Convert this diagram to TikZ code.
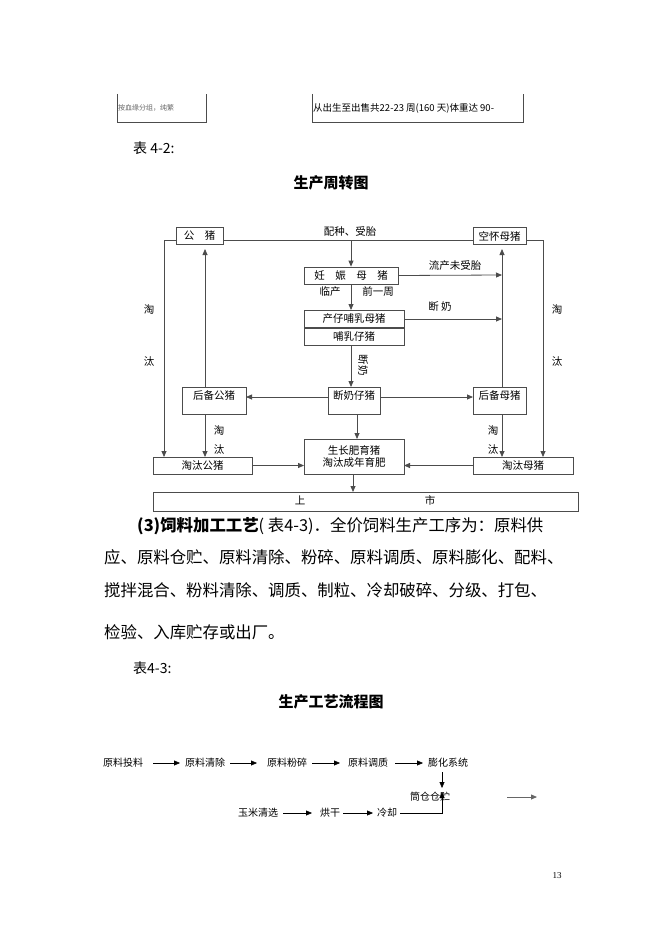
\documentclass[tikz,border=0pt]{standalone}
\usepackage{fontspec}
\setmainfont{Liberation Serif}
\newfontfamily\cjk{Noto Sans CJK SC}
\usetikzlibrary{arrows.meta}
\begin{document}
\begin{tikzpicture}[x=1pt,y=-1pt,
  box/.style={draw,thick,draw=black!70,minimum height=17pt,inner sep=0pt,font=\cjk\fontsize{10.5}{12}\selectfont},
  lab/.style={font=\cjk\fontsize{10.5}{12}\selectfont,inner sep=0pt},
  arr/.style={-{Triangle[length=6pt,width=5pt]},thick,draw=black!70},
  ln/.style={thick,draw=black!70},
  fl/.style={font=\cjk\fontsize{10}{12}\selectfont,inner sep=0pt},
  para/.style={font=\cjk\fontsize{16.4}{18}\selectfont,anchor=west,inner sep=0pt}]
\useasboundingbox[fill=white] (0,0) rectangle (662,936);
% top partial boxes
\draw[ln] (117,94) -- (117,122) -- (206,122) -- (206,94);
\draw[ln] (312,94) -- (312,122) -- (523,122) -- (523,94);
\node[anchor=west,font=\cjk\fontsize{7}{8}\selectfont,text=black!60,inner sep=0pt] (t1) at (118,108) {按血缘分组，纯繁};
\node[anchor=west,font=\cjk\fontsize{9.5}{10}\selectfont,inner sep=0pt] (t2) at (313,108) {从出生至出售共22-23 周(160 天)体重达 90-};
\node[para,font=\cjk\fontsize{14}{15}\selectfont] (b42) at (133,148) {表 4-2:};
\node[font=\cjk\bfseries\fontsize{15}{16}\selectfont] (ti1) at (331,183) {生产周转图};
% diagram nodes
\node[box,minimum width=47pt] (gz) at (199.5,236) {公\quad 猪};
\node[box,minimum width=53pt] (kh) at (499.5,236) {空怀母猪};
\node[box,minimum width=94pt] (rs) at (351,275.5) {妊\quad 娠\quad 母\quad 猪};
\node[box,minimum width=100pt] (cz) at (354,319) {产仔哺乳母猪};
\node[box,minimum width=100pt] (br) at (354,336.5) {哺乳仔猪};
\node[box,minimum width=52pt,minimum height=27pt] (dn) at (354,400.5) {};
\node[lab] at (354,396) {断奶仔猪};
\node[box,minimum width=64pt,minimum height=27pt] (hg) at (214,400.5) {};
\node[lab] at (214,396) {后备公猪};
\node[box,minimum width=53pt,minimum height=27pt] (hm) at (499.5,400.5) {};
\node[lab] at (499.5,396) {后备母猪};
\node[box,minimum width=99pt] (tg) at (202.5,465.5) {淘汰公猪};
\node[box,minimum width=100pt] (tm) at (523,465.5) {淘汰母猪};
\node[box,minimum width=100pt,minimum height=35pt,align=center] (sz) at (354,456.5) {生长肥育猪\\淘汰成年育肥};
\node[box,minimum width=425pt,minimum height=19pt] (ss) at (365.5,501.5) {};
\node[lab] at (300,500) {上};
\node[lab] at (430,500) {市};
% connectors
\coordinate (L1) at (164,240); \coordinate (L2) at (164,457);
\coordinate (R1) at (543,240); \coordinate (R2) at (543,457);
\coordinate (T1) at (351,240);
\draw[ln] (gz.east |- T1) -- (kh.west |- T1);
\node[lab] at (350,231) {配种、受胎};
\draw[arr] (T1) -- (rs.north);
\draw[ln] (gz.west |- L1) -- (L1);
\draw[arr] (L1) -- (L2);
\draw[ln] (kh.east |- R1) -- (R1);
\draw[arr] (R1) -- (R2);
\draw[arr] (rs.south) -- (351,310);
\node[lab] at (330,292) {临产};
\node[lab] at (378,292) {前一周};
\draw[arr] (rs.east) -- (502,275);
\node[lab] at (455,266) {流产未受胎};
\draw[arr] (cz.east) -- (502,319);
\node[lab] at (440,307) {断\ 奶};
\draw[arr] (502,387) -- (502,249);
\draw[arr] (351,345) -- (351,387);
\node[lab,rotate=-90] at (363,365) {断奶};
\draw[arr] (328,397) -- (246,397);
\draw[arr] (380,397) -- (473,397);
\draw[arr] (205,387) -- (205,249);
\draw[arr] (205,414) -- (205,457);
\node[lab] at (219,431) {淘};
\node[lab] at (219,450) {汰};
\draw[arr] (502,414) -- (502,457);
\node[lab] at (493,431) {淘};
\node[lab] at (493,450) {汰};
\draw[arr] (357,414) -- (357,439);
\draw[arr] (tg.east) -- (304,465.5);
\draw[arr] (tm.west) -- (404,465.5);
\draw[arr] (353,474) -- (353,492);
\node[lab] at (149,310) {淘};
\node[lab] at (149,362) {汰};
\node[lab] at (557,310) {淘};
\node[lab] at (557,362) {汰};
% paragraph
\node[para] (p1) at (137,526) {\textbf{(3)饲料加工工艺}( 表4-3)．全价饲料生产工序为：原料供};
\node[para] (p2) at (104,557) {应、原料仓贮、原料清除、粉碎、原料调质、原料膨化、配料、};
\node[para] (p3) at (104,590) {搅拌混合、粉料清除、调质、制粒、冷却破碎、分级、打包、};
\node[para] (p4) at (104,632) {检验、入库贮存或出厂。};
\node[para,font=\cjk\fontsize{14}{15}\selectfont] (b43) at (133,668) {表4-3:};
\node[font=\cjk\bfseries\fontsize{15}{16}\selectfont] (ti2) at (331,702) {生产工艺流程图};
% flow
\node[fl] (a1) at (123,763) {原料投料};
\node[fl] (a2) at (205,763) {原料清除};
\node[fl] (a3) at (287,763) {原料粉碎};
\node[fl] (a4) at (368,763) {原料调质};
\node[fl] (a5) at (448,763) {膨化系统};
\node[fl] (a6) at (430,797) {筒仓仓贮};
\node[fl] (c1) at (258,813) {玉米清选};
\node[fl] (c2) at (330,813) {烘干};
\node[fl] (c3) at (387,813) {冷却};
\draw[arr,thin,black] (153,763) -- (180,763);
\draw[arr,thin,black] (230,763) -- (257,763);
\draw[arr,thin,black] (312,763) -- (340,763);
\draw[arr,thin,black] (395,763) -- (423,763);
\draw[arr,thin,black] (442,772) -- (442,788);
\draw[arr,thin,black] (283,813) -- (312,813);
\draw[arr,thin,black] (343,813) -- (373,813);
\draw[arr,thin,black] (400,813) -- (442,813) -- (442,792);
\coordinate (s1) at (507,797); \coordinate (s2) at (537,797);
\draw[arr,draw=black!60] (s1) -- (s2);
\node[font=\fontsize{9}{10}\selectfont] (pg) at (557,876) {13};
\end{tikzpicture}
\end{document}
